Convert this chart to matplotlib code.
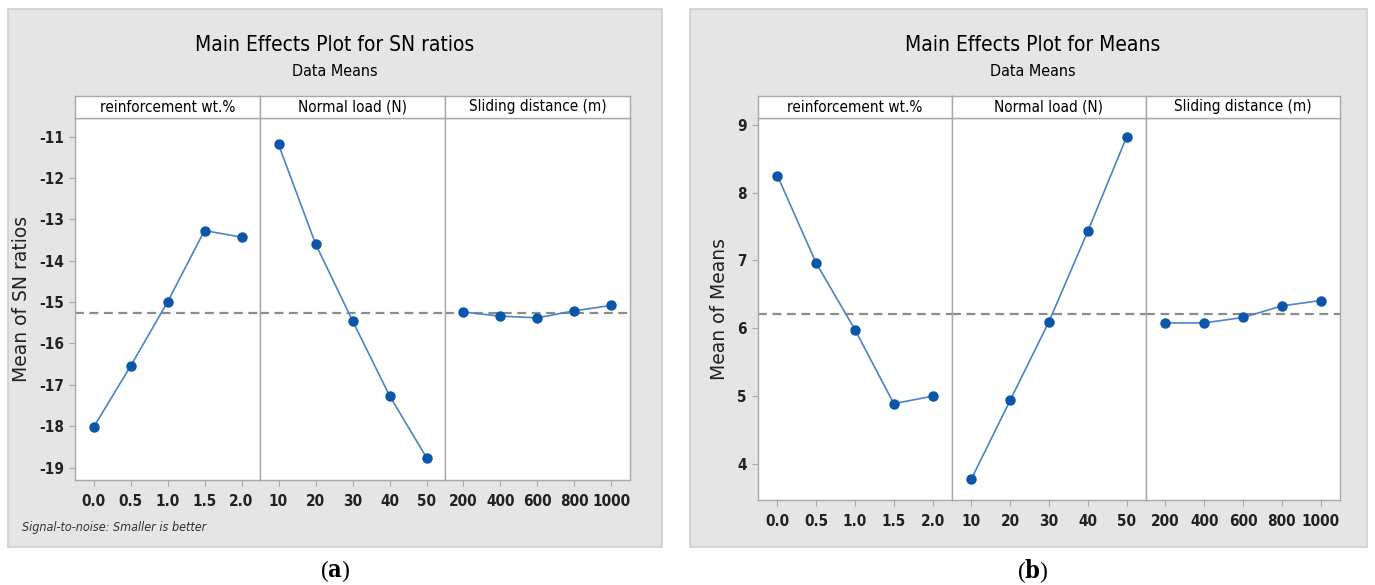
import numpy as np
import matplotlib.pyplot as plt
from matplotlib.patches import Rectangle

plt.rcParams['font.family'] = ['DejaVu Sans']
plt.rcParams['font.stretch'] = 'condensed'

# factor levels
reinf_levels = ['0.0', '0.5', '1.0', '1.5', '2.0']
load_levels = ['10', '20', '30', '40', '50']
dist_levels = ['200', '400', '600', '800', '1000']
factor_names = ['reinforcement wt.%', 'Normal load (N)', 'Sliding distance (m)']

# mean S/N ratios per level
sn_reinf = [-18.03, -16.55, -15.00, -13.27, -13.43]
sn_load = [-11.19, -13.59, -15.45, -17.26, -18.76]
sn_dist = [-15.24, -15.34, -15.38, -15.21, -15.08]

# means per level
mean_reinf = [8.25, 6.96, 5.98, 4.89, 5.00]
mean_load = [3.78, 4.94, 6.10, 7.43, 8.82]
mean_dist = [6.08, 6.08, 6.16, 6.33, 6.41]

W, H = 1375, 585
fig = plt.figure(figsize=(W / 100, H / 100), dpi=100)
fig.patch.set_facecolor('white')

LINE = '#4a84c6'
MARK = '#0b56a8'
EDGE = '#a8a8a8'


def fx(x):
    return x / W


def fy(y):
    return 1 - y / H


def panel(box, title, xy_title, ax_x, ax_y, strip_h, ylabel, ylim, yticks,
          series, note=None, tag=''):
    x0, y0, x1, y1 = box
    fig.patches.append(Rectangle((fx(x0), fy(y1)), fx(x1 - x0), (y1 - y0) / H,
                                 transform=fig.transFigure, facecolor='#e5e5e5',
                                 edgecolor='#cfcfcf', lw=1.2, zorder=-5))
    tx, ty = xy_title
    fig.text(fx(tx), fy(ty), title, ha='center', va='center', fontsize=15)
    fig.text(fx(tx), fy(ty + 27), 'Data Means', ha='center', va='center', fontsize=11.5)

    left, right = ax_x
    top, bottom = ax_y
    w = (right - left) / 3
    overall = np.mean([np.mean(s) for s in series])
    labels = [reinf_levels, load_levels, dist_levels]
    axes = []
    for i, vals in enumerate(series):
        xl = left + i * w
        ax = fig.add_axes([fx(xl), fy(bottom), fx(w), (bottom - top) / H])
        ax.set_facecolor('white')
        pos = np.arange(len(vals))
        ax.axhline(overall, color='#8c8c8c', ls=(0, (4, 2.5)), lw=1.6, zorder=1)
        ax.plot(pos, vals, color=LINE, lw=1.2, zorder=2)
        ax.plot(pos, vals, 'o', color=MARK, ms=6.5, zorder=3)
        ax.set_xlim(-0.5, len(vals) - 0.5)
        ax.set_ylim(*ylim)
        ax.set_xticks(pos)
        ax.set_xticklabels(labels[i], fontsize=11, fontweight='bold', color='#222222')
        ax.tick_params(axis='x', length=4, color=EDGE, pad=6)
        ax.set_yticks(yticks)
        if i == 0:
            ax.set_yticklabels([f'{t:g}' for t in yticks],
                               fontsize=11, fontweight='bold', color='#222222')
            ax.tick_params(axis='y', length=4, color=EDGE, pad=4)
            ax.set_ylabel(ylabel, fontsize=13.5, labelpad=6, color='#222222',
                          fontstretch='normal')
        else:
            ax.tick_params(axis='y', left=False, labelleft=False)
        for sp in ax.spines.values():
            sp.set_color(EDGE)
            sp.set_linewidth(1.0)
        # strip header
        sax = fig.add_axes([fx(xl), fy(top), fx(w), strip_h / H])
        sax.set_xticks([])
        sax.set_yticks([])
        sax.set_facecolor('white')
        for sp in sax.spines.values():
            sp.set_color(EDGE)
            sp.set_linewidth(1.0)
        sax.text(0.5, 0.5, factor_names[i], ha='center', va='center',
                 fontsize=11, transform=sax.transAxes)
        axes.append(ax)
    if note:
        fig.text(fx(x0 + 14), fy(527), note, ha='left', va='center', fontsize=9,
                 style='italic', color='#333333')
    fig.text(fx(tx), fy(571), r'($\mathbf{' + tag + '}$)', ha='center', va='center',
             fontsize=17, family='Liberation Serif', fontstretch='normal',
             math_fontfamily='dejavuserif')
    return axes


panel((8, 9, 662, 547), 'Main Effects Plot for SN ratios', (335, 45),
      (75, 630), (118, 480), 22, 'Mean of SN ratios', (-19.3, -10.55),
      list(range(-19, -10)), [sn_reinf, sn_load, sn_dist],
      note='Signal-to-noise: Smaller is better', tag='a')

panel((690, 9, 1367, 547), 'Main Effects Plot for Means', (1033, 45),
      (758, 1340), (118, 500), 22, 'Mean of Means', (3.47, 9.1),
      [4, 5, 6, 7, 8, 9], [mean_reinf, mean_load, mean_dist], tag='b')

fig.savefig('out.png', dpi=100)
